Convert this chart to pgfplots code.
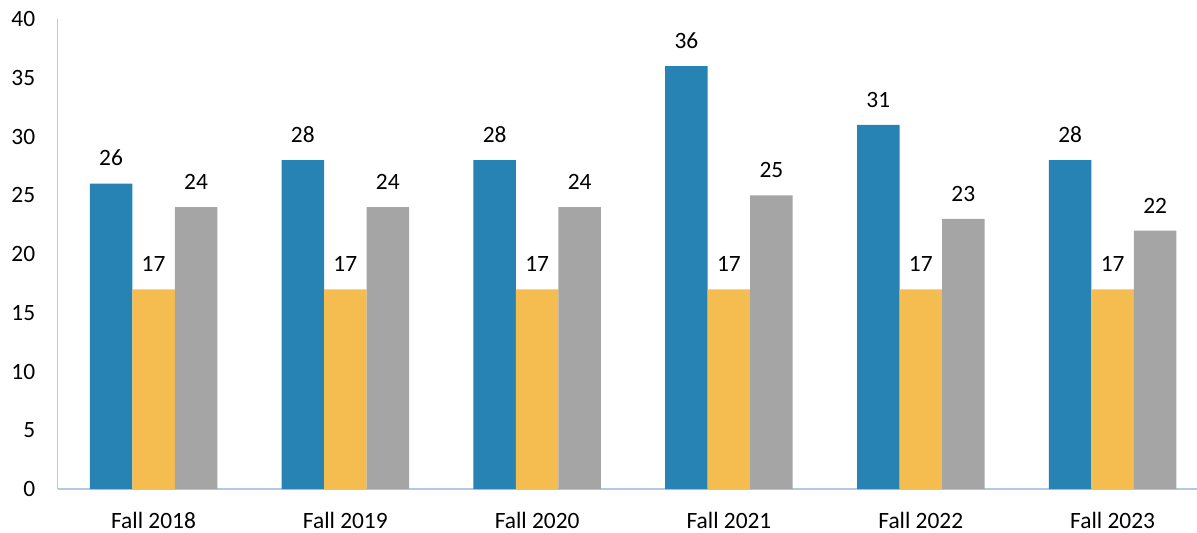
\documentclass[border=0pt]{standalone}
\usepackage{fontspec}
\setmainfont{Carlito}
\usepackage{pgfplots}
\pgfplotsset{compat=1.18}
\definecolor{cblue}{HTML}{2683B3}
\definecolor{cyellow}{HTML}{F5BD4F}
\definecolor{cgray}{HTML}{A5A5A5}
\definecolor{caxis}{HTML}{B4C7E7}
\begin{document}%
\begin{tikzpicture}[font=\fontsize{11.7bp}{14bp}\selectfont]
\begin{axis}[
  name=ax,
  scale only axis,
  width=569.7bp, height=235bp,
  xmin=-0.5, xmax=5.44,
  ymin=0, ymax=40,
  ytick={0,5,...,40},
  xtick={0,1,2,3,4,5},
  xticklabels={Fall 2018,Fall 2019,Fall 2020,Fall 2021,Fall 2022,Fall 2023},
  major tick length=0pt,
  axis x line*=bottom, axis y line*=left,
  axis line style={caxis, line width=0.8bp, -},
  ybar, bar width=21.25bp,
  every axis plot/.append style={draw=none},
  yticklabel style={inner sep=0pt, anchor=east, xshift=-11bp},
  xticklabel style={inner sep=0pt, anchor=north, yshift=-11.5bp},
  tick label style={font=\fontsize{11.7bp}{14bp}\selectfont},
  /pgf/number format/assume math mode=true,
  nodes near coords,
  every node near coord/.append style={anchor=south, inner sep=0pt, yshift=8.5bp, font=\fontsize{11.7bp}{14bp}\selectfont, text=black},
  clip=false,
]
\addplot[fill=cblue, bar shift=-21.25bp] coordinates {(0,26) (1,28) (2,28) (3,36) (4,31) (5,28)};
\addplot[fill=cyellow, bar shift=0bp] coordinates {(0,17) (1,17) (2,17) (3,17) (4,17) (5,17)};
\addplot[fill=cgray, bar shift=21.25bp] coordinates {(0,24) (1,24) (2,24) (3,25) (4,23) (5,22)};
\end{axis}
\pgfresetboundingbox
\useasboundingbox ([xshift=-28.8bp,yshift=-22bp]ax.south west) rectangle ([yshift=9.5bp]ax.north east);
\end{tikzpicture}%
\end{document}
